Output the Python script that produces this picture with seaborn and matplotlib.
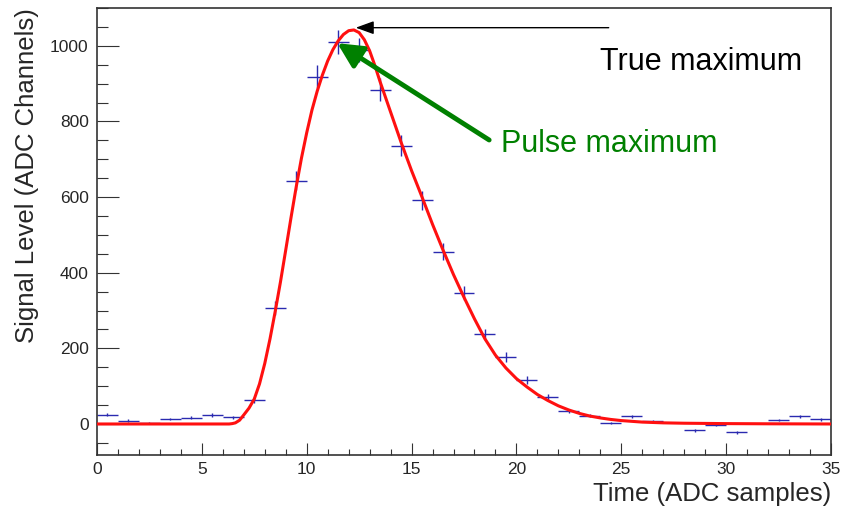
import numpy as np
import pandas as pd
import matplotlib
matplotlib.use("Agg")
from matplotlib import pyplot as plt
from matplotlib.ticker import MultipleLocator
import seaborn as sns

# binned samples (bin width 1)
bin_centers = [0.5, 1.5, 2.5, 3.5, 4.5, 5.5, 6.5, 7.5, 8.5, 9.5, 10.5, 11.5,
               12.5, 13.5, 14.5, 15.5, 16.5, 17.5, 18.5, 19.5, 20.5, 21.5,
               22.5, 23.5, 24.5, 25.5, 26.5, 27.5, 28.5, 29.5, 30.5, 31.5,
               32.5, 33.5, 34.5]
counts = [25, 9, 3, 13, 16, 23, 18, 63, 307, 643, 918, 1011,
          989, 884, 736, 591, 456, 346, 237, 176, 116, 72,
          35, 22, 3, 20, 8, np.nan, -16, -4, -22, np.nan,
          10, 20, 12]

# fitted pulse shape
fit_t = [0, 6.3, 6.45, 6.6, 6.8, 7.0, 7.25, 7.5, 7.75, 8.0, 8.25, 8.5, 8.75,
         9.0, 9.25, 9.5, 9.75, 10.0, 10.25, 10.5, 10.75, 11.0, 11.25,
         11.5, 11.75, 12.0, 12.25, 12.5, 12.75, 13.0, 13.25, 13.5, 14.0,
         14.5, 15.0, 15.5, 16.0, 16.5, 17.0, 17.5, 18.0, 18.5, 19.0, 19.5,
         20.0, 20.5, 21.0, 21.5, 22.0, 22.5, 23.0, 23.5, 24.0, 24.5, 25.0,
         26.0, 27.0, 28.0, 30.0, 32.0, 35.0]
fit_y = [0, 0, 1, 3, 10, 24, 42, 66, 106, 160, 225, 298, 376,
         460, 545, 627, 703, 770, 830, 880, 923, 960, 990,
         1013, 1030, 1040, 1042, 1035, 1016, 987, 948, 905, 825,
         745, 670, 600, 528, 460, 395, 335, 278, 225, 182, 148,
         120, 98, 78, 62, 48, 37, 28, 21, 16, 12, 9,
         5, 3, 2, 1, 0.5, 0]

sns.set_style("white")
plt.rcParams['font.family'] = ['Liberation Sans', 'DejaVu Sans']

df_fit = pd.DataFrame({'t': fit_t, 'y': fit_y})
df_pts = pd.DataFrame({'t': bin_centers, 'y': counts}).dropna()
df_pts['err'] = np.sqrt(np.abs(df_pts['y']))

fig = plt.figure(figsize=(8.44, 5.14), dpi=100)
ax = fig.add_axes([0.1149, 0.1148, 0.8697, 0.8696])

ax.errorbar(df_pts['t'], df_pts['y'], xerr=0.5, yerr=df_pts['err'], fmt='none',
            ecolor='#2a2ab0', elinewidth=1.0, capsize=0, zorder=2)
sns.lineplot(data=df_fit, x='t', y='y', color='#ff1010', linewidth=2.2, ax=ax,
             zorder=3)

ax.set_xlim(0, 35)
ax.set_ylim(-82, 1100)

ax.xaxis.set_major_locator(MultipleLocator(5))
ax.xaxis.set_minor_locator(MultipleLocator(1))
ax.yaxis.set_major_locator(MultipleLocator(200))
ax.yaxis.set_minor_locator(MultipleLocator(50))
ax.tick_params(axis='x', which='major', direction='in', length=8.6, width=0.8,
               labelsize=12.5, pad=5, color='#333333', bottom=True, top=False)
ax.tick_params(axis='x', which='minor', direction='in', length=4.3, width=0.8,
               color='#333333', bottom=True, top=False)
ax.tick_params(axis='y', which='major', direction='in', length=15.8, width=0.8,
               labelsize=12.5, pad=6, color='#333333', left=True, right=False)
ax.tick_params(axis='y', which='minor', direction='in', length=8, width=0.8,
               color='#333333', left=True, right=False)
for s in ax.spines.values():
    s.set_color('#333333')
    s.set_linewidth(1.2)

ax.set_xlabel('Time (ADC samples)', fontsize=18.5, loc='right', labelpad=4)
ax.set_ylabel('Signal Level (ADC Channels)', fontsize=18.5, loc='top', labelpad=8)

# annotation arrows
ax.annotate('', xy=(12.34, 1048), xytext=(24.4, 1048),
            arrowprops=dict(arrowstyle='-|>,head_length=1.1,head_width=0.4',
                            color='black', lw=1.0, shrinkA=0, shrinkB=0))
ax.annotate('', xy=(11.46, 1007), xytext=(18.7, 751),
            arrowprops=dict(arrowstyle='-|>,head_length=1.5,head_width=0.75',
                            color='green', lw=3.5, shrinkA=0, shrinkB=0))
ax.text(24.0, 956, 'True maximum', fontsize=22, color='black', va='center', ha='left')
ax.text(19.27, 740, 'Pulse maximum', fontsize=22, color='green', va='center', ha='left')

fig.savefig('out.png', dpi=100)
